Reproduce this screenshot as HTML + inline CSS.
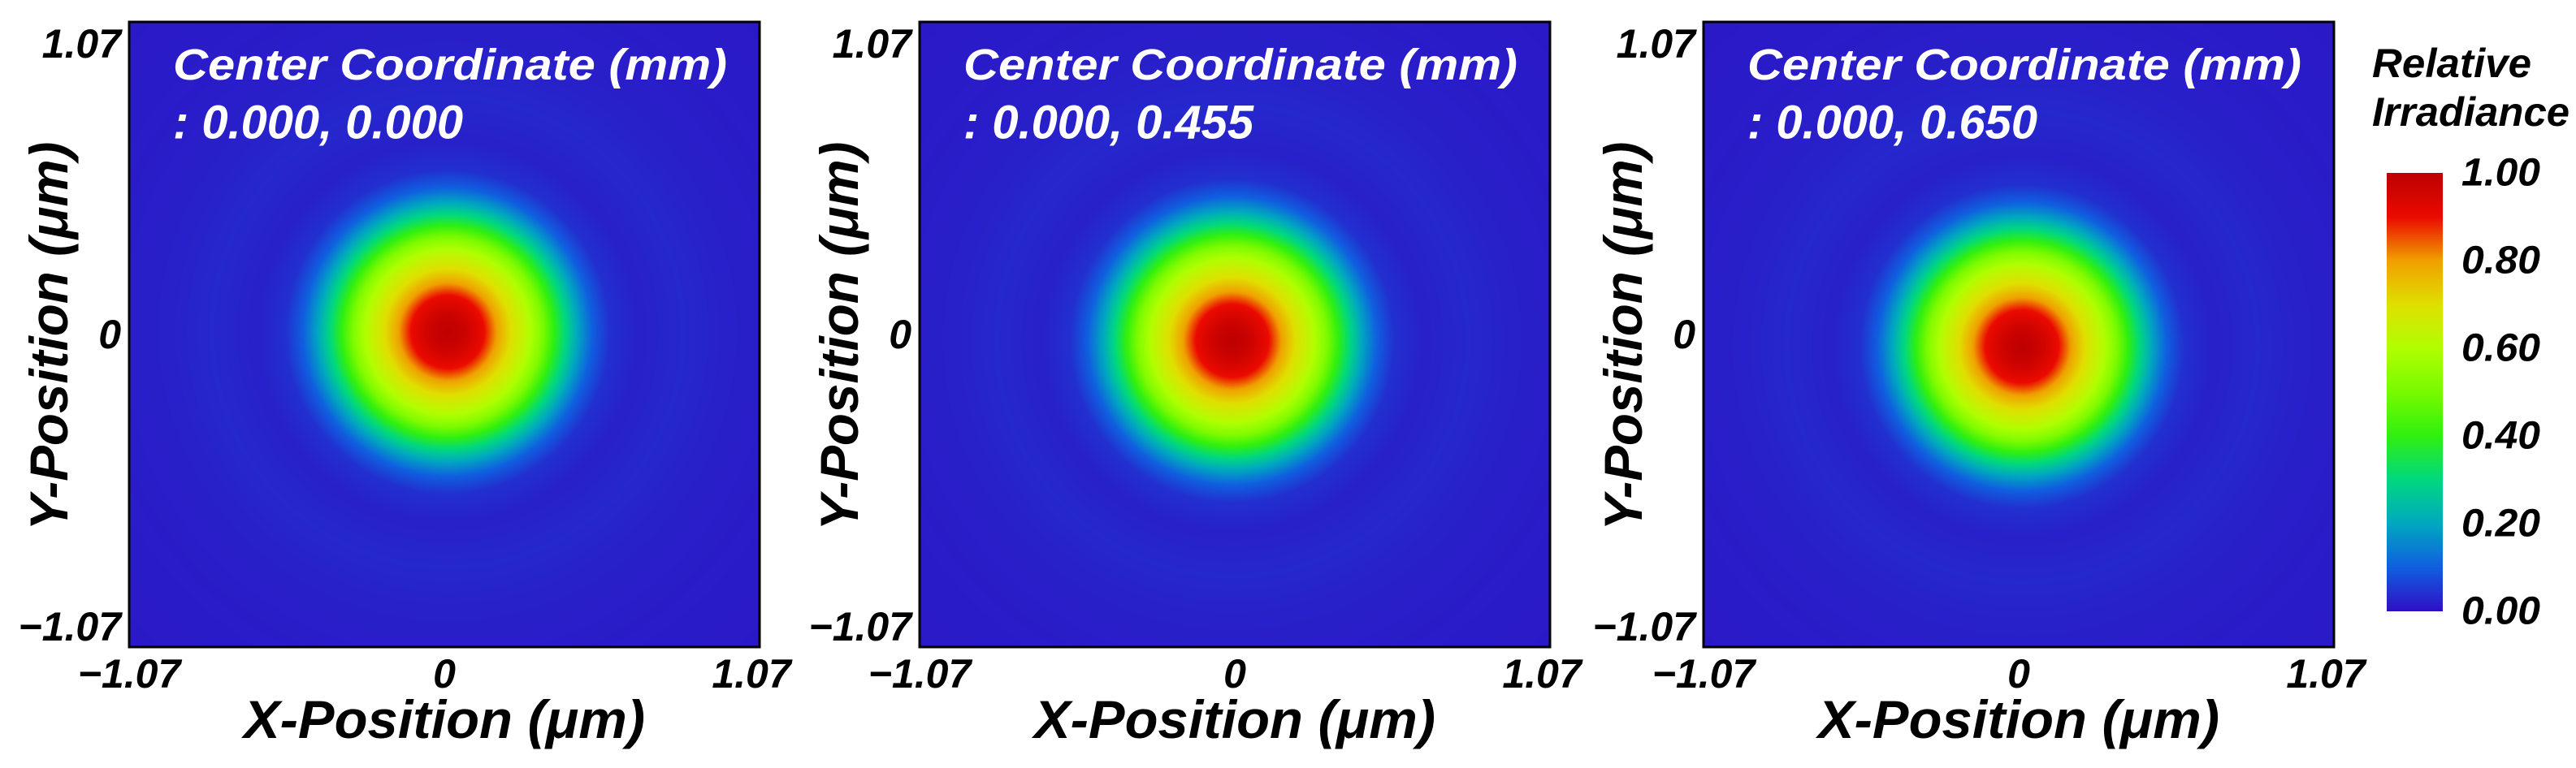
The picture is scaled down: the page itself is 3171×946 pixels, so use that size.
<!DOCTYPE html>
<html><head><meta charset="utf-8"><style>
html,body{margin:0;padding:0;background:#fff;}
#root{position:relative;width:3171px;height:946px;overflow:hidden;background:#fff;}
canvas{position:absolute;}
svg{position:absolute;left:0;top:0;}
text{font-family:"Liberation Sans",Arial,sans-serif;font-weight:bold;font-style:italic;}
</style></head><body>
<div id="root">
<canvas id="c0"></canvas>
<canvas id="c1"></canvas>
<canvas id="c2"></canvas>
<canvas id="cb"></canvas>
<svg id="ov" width="3171" height="946"></svg>
</div>
<script>
// ---- data ----
const panelLabels = ["0.000, 0.000", "0.000, 0.455", "0.000, 0.650"];
const centerX = [0.01, -0.01, 0.01];      // spot centre, μm
const centerY = [0.01, -0.02, -0.04];     // spot centre, μm
const peakValues = [1.0, 1.0, 1.0];
const profileR = [0, 0.06, 0.124, 0.166, 0.215, 0.27, 0.318, 0.36, 0.4, 0.44, 0.49, 0.55, 0.65, 0.8, 0.95, 1.2, 1.6];
const profileI = [1.0, 0.97, 0.9, 0.8, 0.7, 0.62, 0.52, 0.4, 0.3, 0.2, 0.1, 0.04, 0.02, 0.03, 0.02, 0.015, 0.01];
const axisMin = -1.07, axisMax = 1.07;
const tickValues = [-1.07, 0, 1.07];
const tickLabels = ["\u22121.07", "0", "1.07"];
const cbTicks = [0, 0.2, 0.4, 0.6, 0.8, 1.0];
const cbTickLabels = ["0.00", "0.20", "0.40", "0.60", "0.80", "1.00"];
const cmapStops = [0, 0.1, 0.2, 0.3, 0.4, 0.5, 0.6, 0.7, 0.8, 0.9, 1.0];
const cmapR = [46, 16, 0, 0, 48, 120, 176, 224, 240, 235, 190];
const cmapG = [16, 96, 168, 216, 240, 250, 255, 224, 160, 10, 0];
const cmapB = [196, 224, 192, 128, 16, 0, 0, 0, 0, 0, 0];

// ---- layout ----
const panelLeft = [159, 1132, 2097];
const panelTop = 27, panelW = 776, panelH = 770;
const cbX = 2938, cbY = 213, cbW = 69, cbH = 540;
const NS = "http://www.w3.org/2000/svg";
const ov = document.getElementById('ov');

function cmap(v){
  v = Math.max(0, Math.min(1, v));
  for (let i = 1; i < cmapStops.length; i++) {
    if (v <= cmapStops[i]) {
      const t = (v - cmapStops[i-1]) / (cmapStops[i] - cmapStops[i-1]);
      return [cmapR[i-1] + t*(cmapR[i]-cmapR[i-1]), cmapG[i-1] + t*(cmapG[i]-cmapG[i-1]), cmapB[i-1] + t*(cmapB[i]-cmapB[i-1])];
    }
  }
  return [cmapR[cmapR.length-1], cmapG[cmapG.length-1], cmapB[cmapB.length-1]];
}
function profile(r){
  if (r >= profileR[profileR.length-1]) return profileI[profileI.length-1];
  for (let i = 1; i < profileR.length; i++) {
    if (r <= profileR[i]) {
      const t = (r - profileR[i-1]) / (profileR[i] - profileR[i-1]);
      return profileI[i-1] + t*(profileI[i]-profileI[i-1]);
    }
  }
  return 0;
}
function xScale(p, v){ return panelLeft[p] + (v - axisMin) / (axisMax - axisMin) * panelW; }
function yScale(v){ return panelTop + (axisMax - v) / (axisMax - axisMin) * panelH; }

function txt(x, y, s, size, anchor, fill, name, extra){
  const t = document.createElementNS(NS, 'text');
  t.setAttribute('x', x); t.setAttribute('y', y);
  t.setAttribute('font-size', size);
  t.setAttribute('text-anchor', anchor || 'start');
  t.setAttribute('dominant-baseline', 'central');
  t.setAttribute('fill', fill || '#000');
  if (extra) for (const k in extra) t.setAttribute(k, extra[k]);
  t.textContent = s;
  
  
  ov.appendChild(t);
  return t;
}

for (let p = 0; p < 3; p++) {
  const cv = document.getElementById('c' + p);
  cv.width = panelW; cv.height = panelH;
  cv.style.left = panelLeft[p] + 'px'; cv.style.top = panelTop + 'px';
  const ctx = cv.getContext('2d');
  const img = ctx.createImageData(panelW, panelH);
  const cx = xScale(p, centerX[p]) - panelLeft[p];
  const cy = yScale(centerY[p]) - panelTop;
  const pxPerUm = panelW / (axisMax - axisMin);
  for (let y = 0; y < panelH; y++) {
    for (let x = 0; x < panelW; x++) {
      const r = Math.hypot(x - cx, y - cy) / pxPerUm;
      const c = cmap(profile(r) * peakValues[p]);
      const k = (y*panelW + x)*4;
      img.data[k] = c[0]; img.data[k+1] = c[1]; img.data[k+2] = c[2]; img.data[k+3] = 255;
    }
  }
  ctx.putImageData(img, 0, 0);

  const fr = document.createElementNS(NS, 'rect');
  fr.setAttribute('x', panelLeft[p]); fr.setAttribute('y', panelTop);
  fr.setAttribute('width', panelW); fr.setAttribute('height', panelH);
  fr.setAttribute('fill', 'none'); fr.setAttribute('stroke', '#000'); fr.setAttribute('stroke-width', 3);
  
  
  ov.appendChild(fr);

  for (let i = 0; i < tickValues.length; i++) {
    let yy = yScale(tickValues[i]);
    if (i === 0) yy -= 25; if (i === 2) yy += 27;
    txt(panelLeft[p] - 10, yy, tickLabels[i], 50, 'end', '#000', 'y-tick-label');
  }
  for (let i = 0; i < tickValues.length; i++) {
    let xx = xScale(p, tickValues[i]);
    if (i === 2) xx -= 10;
    txt(xx, 830, tickLabels[i], 50, 'middle', '#000', 'x-tick-label');
  }
  txt(panelLeft[p] + panelW/2, 886, 'X-Position (\u03bcm)', 66, 'middle', '#000', 'x-axis-title', {textLength: 494, lengthAdjust: 'spacingAndGlyphs'});
  const yt = txt(0, 0, 'Y-Position (\u03bcm)', 66, 'middle', '#000', 'y-axis-title', {textLength: 479, lengthAdjust: 'spacingAndGlyphs'});
  yt.setAttribute('transform', 'translate(' + (panelLeft[p] - 99) + ',414) rotate(-90)');
  txt(panelLeft[p] + 54, 80, 'Center Coordinate (mm)', 54, 'start', '#fff', 'center-coordinate-title', {textLength: 682, lengthAdjust: 'spacingAndGlyphs'});
  txt(panelLeft[p] + 54, 151, ': ' + panelLabels[p], 58, 'start', '#fff', 'center-coordinate-value', {textLength: 357, lengthAdjust: 'spacingAndGlyphs'});
}

const cb = document.getElementById('cb');
cb.width = cbW; cb.height = cbH;
cb.style.left = cbX + 'px'; cb.style.top = cbY + 'px';
const cctx = cb.getContext('2d');
for (let y = 0; y < cbH; y++) {
  const c = cmap(1 - y/(cbH-1));
  cctx.fillStyle = 'rgb(' + c.map(Math.round).join(',') + ')';
  cctx.fillRect(0, y, cbW, 1);
}
for (let i = 0; i < cbTicks.length; i++) {
  const yy = cbY + cbH - cbTicks[i]*cbH;
  txt(3030, yy, cbTickLabels[i], 48, 'start', '#000', 'colorbar-tick-label', {textLength: 97, lengthAdjust: 'spacingAndGlyphs'});
}
txt(2920, 78, 'Relative', 50, 'start', '#000', 'colorbar-title', {textLength: 196, lengthAdjust: 'spacingAndGlyphs'});
txt(2920, 138, 'Irradiance', 50, 'start', '#000', 'colorbar-title', {textLength: 243, lengthAdjust: 'spacingAndGlyphs'});
</script>
</body></html>
